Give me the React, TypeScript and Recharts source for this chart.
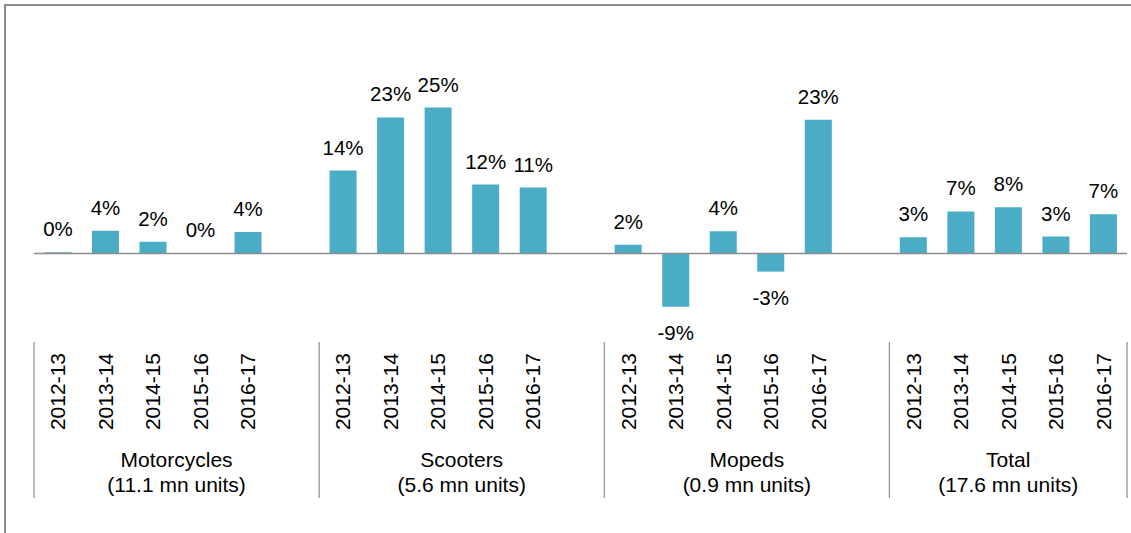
import React from "react";
import { BarChart, Bar, XAxis, YAxis, ReferenceLine, LabelList } from "recharts";

const groups = ["Motorcycles", "Scooters", "Mopeds", "Total"];
const groupUnits = ["(11.1 mn units)", "(5.6 mn units)", "(0.9 mn units)", "(17.6 mn units)"];
const years = ["2012-13", "2013-14", "2014-15", "2015-16", "2016-17"];

const motorcycles = [0.2, 3.9, 2.0, 0.1, 3.7];
const scooters = [14.2, 23.3, 25.0, 11.8, 11.3];
const mopeds = [1.5, -9.1, 3.8, -3.1, 22.9];
const total = [2.8, 7.2, 7.9, 2.9, 6.7];

const seriesByGroup = [motorcycles, scooters, mopeds, total];

type Row = { slot: string; group: number; yearIdx: number; value: number | null };

const rows: Row[] = [];
seriesByGroup.forEach((vals, g) => {
  vals.forEach((v, i) => rows.push({ slot: `${g}-${i}`, group: g, yearIdx: i, value: v }));
  if (g < seriesByGroup.length - 1) rows.push({ slot: `gap-${g}`, group: g, yearIdx: -1, value: null });
});

// layout
const W = 1131;
const H = 533;
const LEFT = 34;
const RIGHT = 1127;
const ZERO = 253.5;
const PX_PER_UNIT = 5.84;
const Y_MIN = -16;
const Y_MAX = 36;
const PLOT_TOP = ZERO - Y_MAX * PX_PER_UNIT;
const PLOT_BOTTOM = ZERO - Y_MIN * PX_PER_UNIT;
const BAND = (RIGHT - LEFT) / rows.length;
const FONT = "'Liberation Sans', Arial, sans-serif";
const LINE = "#8c8c8c";

const YearTick = (props: any) => {
  const { x, index } = props;
  const row = rows[index];
  if (!row) return null;
  const out: React.ReactNode[] = [];
  if (row.yearIdx >= 0) {
    const tx = x + 7.5;
    out.push(
      <text
        key="y"
        x={tx}
        y={353}
        transform={`rotate(-90, ${tx}, 353)`}
        textAnchor="end"
        fontSize={21}
        fontFamily={FONT}
        fill="#000"
      >
        {years[row.yearIdx]}
      </text>
    );
  }
  if (row.yearIdx === 0) {
    const start = x - BAND / 2;
    const span = row.group < groups.length - 1 ? 6 : 5;
    const end = start + span * BAND;
    const cx = (start + end) / 2;
    out.push(<line key="s" x1={start} x2={start} y1={342} y2={498} stroke={LINE} strokeWidth={1.2} />);
    if (row.group === groups.length - 1) {
      out.push(<line key="e" x1={end} x2={end} y1={342} y2={498} stroke={LINE} strokeWidth={1.2} />);
    }
    out.push(
      <text key="g" x={cx} y={467} textAnchor="middle" fontSize={21} fontFamily={FONT} fill="#000">
        {groups[row.group]}
      </text>
    );
    out.push(
      <text key="u" x={cx} y={491.5} textAnchor="middle" fontSize={21} fontFamily={FONT} fill="#000">
        {groupUnits[row.group]}
      </text>
    );
  }
  return <g>{out}</g>;
};

const ValueLabel = (props: any) => {
  const { x, y, width, height, value } = props;
  if (value === null || value === undefined) return null;
  const top = Math.min(y, y + height);
  const bottom = Math.max(y, y + height);
  const ly = value >= 0 ? top - 16 : bottom + 33;
  return (
    <text x={x + width / 2} y={ly} textAnchor="middle" fontSize={20.5} fontFamily={FONT} fill="#000">
      {`${Math.round(value)}%`}
    </text>
  );
};

export default function App() {
  return (
    <div style={{ position: "absolute", left: 0, top: 0, width: W, height: H, background: "#fff", overflow: "hidden" }}>
      <div
        style={{
          position: "absolute",
          left: 4,
          top: 4,
          width: W + 20,
          height: H + 20,
          borderTop: `2px solid ${LINE}`,
          borderLeft: `2px solid ${LINE}`,
        }}
      />
      <div style={{ position: "absolute", left: 0, top: 0 }}>
        <BarChart
          width={W}
          height={H}
          data={rows}
          margin={{ top: PLOT_TOP, right: W - RIGHT, bottom: 0, left: LEFT }}
          barCategoryGap="22%"
        >
          <XAxis
            dataKey="slot"
            axisLine={false}
            tickLine={false}
            interval={0}
            height={H - PLOT_BOTTOM}
            tick={<YearTick />}
          />
          <YAxis hide domain={[Y_MIN, Y_MAX]} allowDataOverflow />
          <ReferenceLine y={0} stroke={LINE} strokeWidth={1.5} />
          <Bar dataKey="value" fill="#4bacc6" isAnimationActive={false}>
            <LabelList dataKey="value" content={<ValueLabel />} />
          </Bar>
        </BarChart>
      </div>
    </div>
  );
}
